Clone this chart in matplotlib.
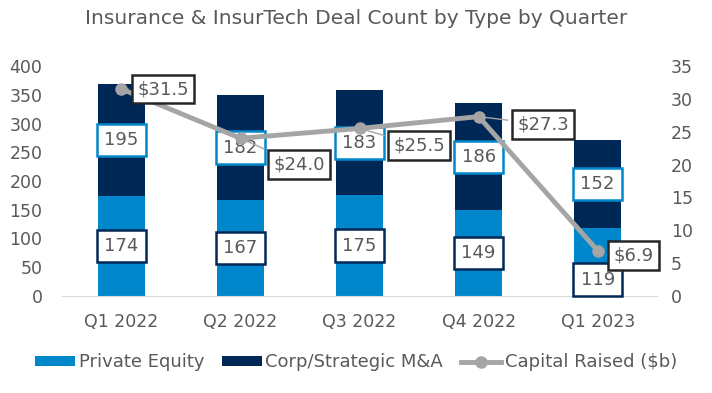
import matplotlib.pyplot as plt
import numpy as np

quarters = ["Q1 2022", "Q2 2022", "Q3 2022", "Q4 2022", "Q1 2023"]
private_equity = [174, 167, 175, 149, 119]
corp_strategic = [195, 182, 183, 186, 152]
capital_raised = [31.5, 24.0, 25.5, 27.3, 6.9]

pe_color = '#0087CB'
corp_color = '#002857'
line_color = '#A5A5A5'
txt = '#595959'

plt.rcParams['font.family'] = ['DejaVu Sans']

fig = plt.figure(figsize=(7.12, 3.93), dpi=100)
ax = fig.add_axes([0.087, 0.247, 0.836, 0.585])
ax2 = ax.twinx()

x = np.arange(len(quarters))
ax.bar(x, private_equity, width=0.4, color=pe_color, label='Private Equity')
ax.bar(x, corp_strategic, width=0.4, bottom=private_equity, color=corp_color,
       label='Corp/Strategic M&A')

ax.set_ylim(0, 400)
ax.set_yticks(range(0, 401, 50))
ax.set_xlim(-0.5, len(quarters) - 0.5)
ax.set_xticks(x)
ax.set_xticklabels(quarters)
ax2.set_ylim(0, 35)
ax2.set_yticks(range(0, 36, 5))

for a in (ax, ax2):
    for s in a.spines.values():
        s.set_visible(False)
    a.tick_params(length=0, labelsize=12.5, colors=txt)
ax.spines['bottom'].set_visible(True)
ax.spines['bottom'].set_color('#D9D9D9')
ax.tick_params(axis='x', pad=12)
ax.tick_params(axis='y', pad=14)
ax2.tick_params(axis='y', pad=10)

# bar labels
for i in range(len(quarters)):
    pe_y = private_equity[i] / 2
    if i == 4:
        pe_y = private_equity[i] / 2 - 31
    ax.text(x[i], pe_y, str(private_equity[i]), ha='center', va='center', fontsize=13, color=txt,
            bbox=dict(boxstyle='square,pad=0.4', fc='white', ec=corp_color, lw=1.8), zorder=5)
    ax.text(x[i], private_equity[i] + corp_strategic[i] / 2, str(corp_strategic[i]), ha='center',
            va='center', fontsize=13, color=txt,
            bbox=dict(boxstyle='square,pad=0.4', fc='white', ec=pe_color, lw=1.8), zorder=5)

ax2.plot(x, capital_raised, color=line_color, lw=3.5, marker='o', markersize=8,
         label='Capital Raised ($b)', zorder=4)

# line labels with leader lines
offsets = [(0.35, 0.0), (0.49, -4.0), (0.50, -2.6), (0.54, -1.2), (0.30, -0.8)]
for i, v in enumerate(capital_raised):
    dx, dy = offsets[i]
    ax2.annotate(f"${v:.1f}", xy=(x[i], v), xytext=(x[i] + dx, v + dy), ha='center', va='center',
                 fontsize=13, color=txt,
                 bbox=dict(boxstyle='square,pad=0.3', fc='white', ec='#262626', lw=1.8),
                 arrowprops=dict(arrowstyle='-', color=line_color, lw=1), zorder=6)
ax2.set_zorder(ax.get_zorder() + 1)
ax2.patch.set_visible(False)

fig.text(0.5, 0.953, "Insurance & InsurTech Deal Count by Type by Quarter", ha='center', va='center',
         fontsize=14.5, color=txt)

h1, l1 = ax.get_legend_handles_labels()
h2, l2 = ax2.get_legend_handles_labels()
fig.legend(h1 + h2, l1 + l2, loc='center', bbox_to_anchor=(0.5, 0.078), ncol=3, frameon=False,
           fontsize=13, labelcolor=txt, handlelength=2.2, handleheight=0.5, handletextpad=0.2,
           columnspacing=1.0)

fig.savefig('out.png', dpi=100)
